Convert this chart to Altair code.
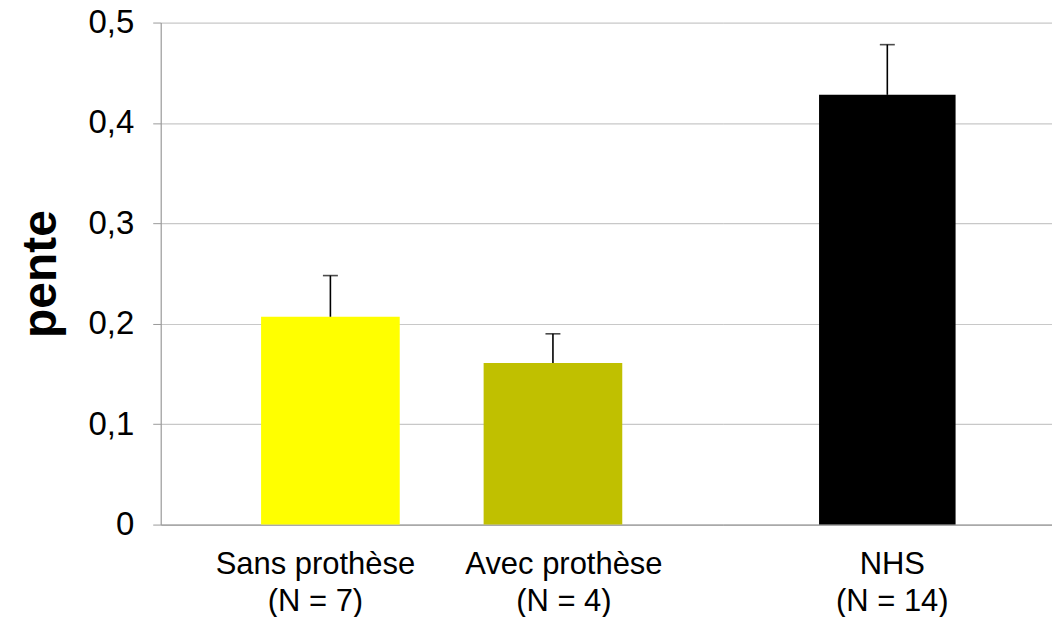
import altair as alt
import pandas as pd

groupes = ["Sans prothèse", "Avec prothèse", "NHS"]
effectifs = ["(N = 7)", "(N = 4)", "(N = 14)"]
pente = [0.207, 0.161, 0.428]
erreur_haut = [0.248, 0.190, 0.478]
couleurs = ["#FFFF00", "#C0C000", "#000000"]
bloc = ["avec_sans", "avec_sans", "nhs"]

df = pd.DataFrame({
    "groupe": [f"{g}|{n}" for g, n in zip(groupes, effectifs)],
    "nom": groupes,
    "pente": pente,
    "haut": erreur_haut,
    "bloc": bloc,
})
ordre = list(df["groupe"])

FONT = "Liberation Sans"
GRID = "#c8c8c8"
AXC = "#9a9a9a"
color_enc = alt.Color("nom:N", scale=alt.Scale(domain=groupes, range=couleurs), legend=None)
yvals = [0, 0.1, 0.2, 0.3, 0.4, 0.5]


def panneau(sub, width, p_inner, p_outer, align, show_y, label_offset):
    tri = [g for g in ordre if g in list(sub["groupe"])]
    x = alt.X(
        "groupe:N",
        sort=tri,
        scale=alt.Scale(paddingInner=p_inner, paddingOuter=p_outer, align=align),
        axis=alt.Axis(
            title=None, labelAngle=0, ticks=False, labelPadding=25, labelLimit=0,
            labelExpr="split(datum.label, '|')", labelFontSize=31,
            labelLineHeight=37, labelFont=FONT, labelColor="#000000",
            domain=True, domainColor=AXC, domainWidth=1.2, labelOffset=label_offset,
            grid=False,
        ),
    )
    if show_y:
        yaxis = alt.Axis(
            title="pente", values=yvals, domain=True, ticks=True,
            labelExpr="datum.value == 0 ? '0' : replace(format(datum.value, '.1f'), '.', ',')",
            labelFontSize=33, labelFont=FONT, labelColor="#000000", labelPadding=19,
            tickSize=8, tickColor=AXC, domainColor=AXC, domainWidth=1.2,
            gridColor=GRID, gridWidth=1.2,
            titleFontSize=48, titleFont=FONT, titleFontWeight="bold", titleColor="#000000",
            titlePadding=23,
        )
    else:
        yaxis = alt.Axis(
            title=None, values=yvals, labels=False, ticks=False,
            domain=False, gridColor=GRID, gridWidth=1.2,
        )
    yscale = alt.Scale(domain=[0, 0.5])
    base = alt.Chart(sub)
    bars = base.mark_bar().encode(
        x=x, y=alt.Y("pente:Q", scale=yscale, axis=yaxis), color=color_enc)
    rule = base.mark_rule(color="#000000", strokeWidth=1.6).encode(
        x=x, y=alt.Y("pente:Q", scale=yscale, axis=yaxis), y2="haut:Q")
    cap = base.mark_tick(color="#000000", orient="horizontal", size=15, thickness=1.6).encode(
        x=x, y=alt.Y("haut:Q", scale=yscale, axis=yaxis))
    return alt.layer(bars, rule, cap).properties(width=width, height=503)


left = panneau(df[df["bloc"] == "avec_sans"], 563, 0.377, 0.451, 0.5, True,
               {"condition": {"test": "indexof(datum.label, 'Sans') == 0", "value": -15}, "value": 11})
right = panneau(df[df["bloc"] == "nhs"], 330, 0.377, 0.44, 0.5, False, 5)

chart = (
    alt.hconcat(left, right, spacing=0)
    .resolve_scale(x="independent")
    .properties(padding={"left": 9, "top": -2, "right": 0, "bottom": 0}, background="#ffffff")
    .configure_view(strokeWidth=0, stroke="transparent")
    .configure_axisX(grid=False)
)

chart.save("out.html", embed_options={"renderer": "svg", "actions": False})
